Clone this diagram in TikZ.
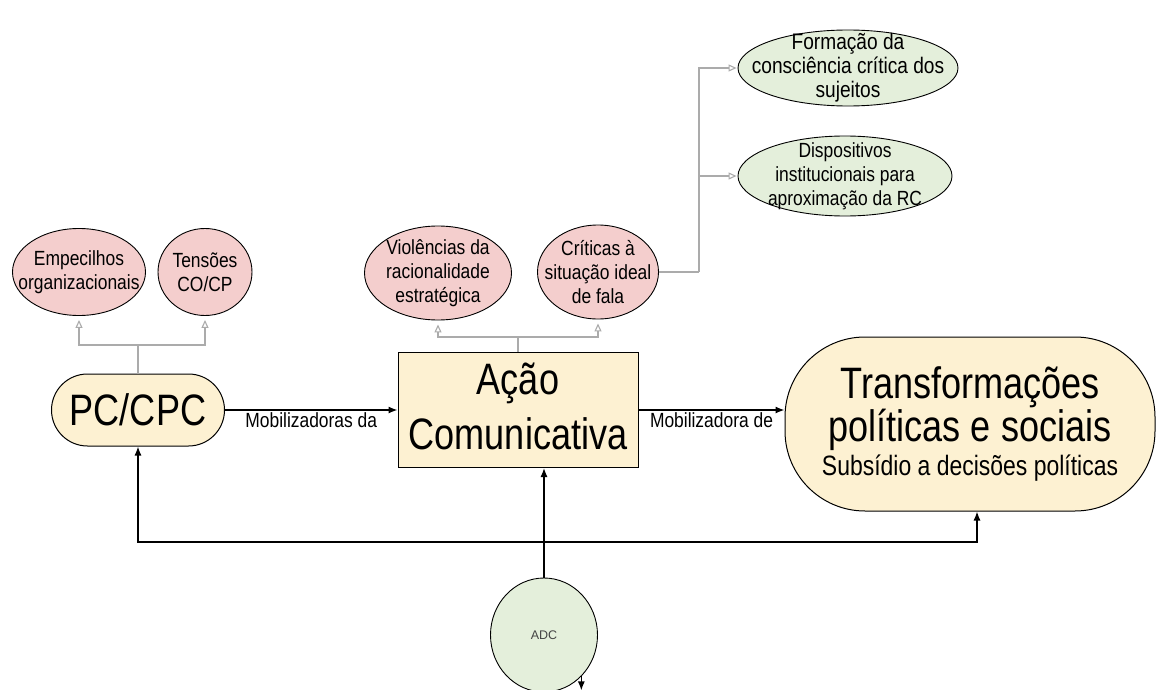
\documentclass[tikz,border=0pt]{standalone}
\usepackage{fontspec}
\setmainfont[FakeStretch=0.85]{Liberation Sans}
\newfontfamily\bigfont[FakeStretch=0.82]{Liberation Sans}
\newfontfamily\plainfont{Liberation Sans}
\usetikzlibrary{shapes.geometric,arrows.meta}
\definecolor{pinkfill}{HTML}{F4CECD}
\definecolor{greenfill}{HTML}{E4EFDB}
\definecolor{yellowfill}{HTML}{FDF1D2}
\definecolor{graylink}{HTML}{ABABAB}
\definecolor{adctext}{HTML}{444444}
\tikzset{
  bubble/.style={ellipse, draw=black, line width=0.9pt, inner sep=0pt},
  pinkbubble/.style={bubble, fill=pinkfill},
  greenbubble/.style={bubble, fill=greenfill},
  smalltext/.style={align=center, font=\fontsize{20.5}{24}\selectfont, inner sep=0pt},
  largertext/.style={align=center, font=\fontsize{22.5}{24}\selectfont, inner sep=0pt},
  mainbox/.style={draw=black, line width=1pt, fill=yellowfill, align=center, inner sep=0pt},
  glink/.style={draw=graylink, line width=1.1pt},
  gtip/.style={glink, -{Triangle[open, length=8pt, width=7pt]}, shorten >=4pt},
  blink/.style={draw=black, line width=1.3pt},
  btip/.style={blink, -{Latex[length=9pt, width=7pt]}},
  edgelabel/.style={font=\fontsize{20.5}{22}\selectfont, inner sep=2pt}
}
\begin{document}
\begin{tikzpicture}[x=1pt, y=-1pt]
\useasboundingbox (0,0) rectangle (1159,690);

% main nodes
\node[mainbox, rounded corners=36pt, minimum width=173pt, minimum height=72pt,
      font=\bigfont\fontsize{44}{50}\selectfont] (pc) at (138,410) {PC/CPC};
\node[mainbox, minimum width=240pt, minimum height=115pt,
      label={[align=center, inner sep=0pt, yshift=4pt, font=\bigfont\fontsize{44}{55}\selectfont]center:Ação\\Comunicativa}] (ac) at (518,410) {};
\node[mainbox, rounded corners=80pt, minimum width=370pt, minimum height=174pt,
      font=\bigfont\fontsize{44}{40}\selectfont] (tr) at (970,424)
      {Transformações\\políticas e sociais\\[-6pt]{\fontsize{28}{34}\selectfont Subsídio a decisões políticas}};

% pink bubbles
\node[pinkbubble, minimum width=133pt, minimum height=87pt,
      label={[smalltext]center:Empecilhos\\organizacionais}] (emp) at (79,272) {};
\node[pinkbubble, minimum width=94pt, minimum height=87pt,
      label={[smalltext]center:Tensões\\CO/CP}] (ten) at (205,272) {};
\node[pinkbubble, minimum width=147pt, minimum height=94pt,
      label={[smalltext]center:Violências da\\racionalidade\\estratégica}] (vio) at (438,273) {};
\node[pinkbubble, minimum width=121pt, minimum height=94pt,
      label={[smalltext]center:Críticas à\\situação ideal\\de fala}] (cri) at (598,272) {};

% green bubbles
\node[greenbubble, minimum width=220pt, minimum height=76pt,
      label={[largertext]center:Formação da\\consciência crítica dos\\sujeitos}] (for) at (848,68) {};
\node[greenbubble, minimum width=214pt, minimum height=80pt,
      label={[smalltext]center:Dispositivos\\institucionais para\\aproximação da RC}] (dis) at (845,176) {};

% ADC
\node[greenbubble, minimum width=107pt, minimum height=114pt,
      font=\plainfont\fontsize{12.5}{14}\selectfont, text=adctext] (adc) at (544,635) {ADC};

% gray connectors
\coordinate (j1) at (138,345);
\draw[glink] (pc.north) -- (j1);
\draw[gtip] (j1) -| (emp.south);
\draw[gtip] (j1) -| (ten.south);

\coordinate (j2) at (518,337);
\draw[glink] (ac.north) -- (j2);
\draw[gtip] (j2) -| (vio.south);
\draw[gtip] (j2) -| (cri.south);

\coordinate (j3) at (699,272);
\draw[glink] (cri.east) -- (j3);
\draw[gtip, shorten >=1pt] (j3) |- (for.west);
\draw[gtip, shorten >=1pt] (j3) |- (dis.west);

% black connectors
\draw[btip] (pc.east) -- node[edgelabel, below] {Mobilizadoras da} (ac.west);
\draw[btip] (ac.east) -- node[edgelabel, below] {Mobilizadora de} (ac.east -| tr.west);

\coordinate (rb) at (977,542);
\draw[blink, {Latex[length=9pt, width=7pt]}-{Latex[length=9pt, width=7pt]}]
  (pc.south) |- (rb) -- (rb |- tr.south);

\draw[btip] (adc.north) -- (adc.north |- ac.south);

\coordinate (stub) at (adc.-48);
\draw[btip] (stub) -- ++(0,14);
\end{tikzpicture}
\end{document}
